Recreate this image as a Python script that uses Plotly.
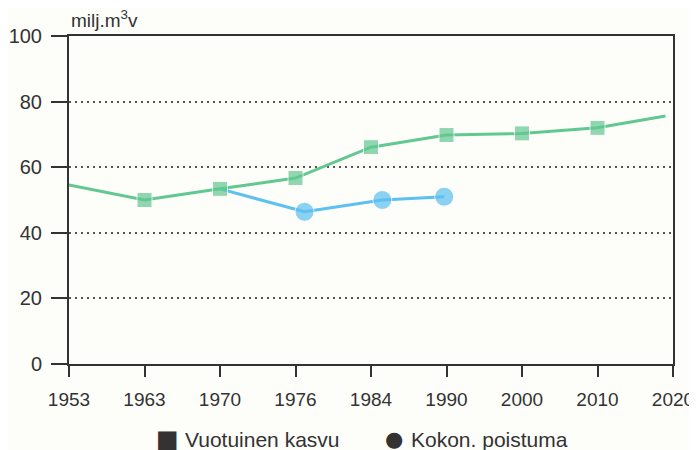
import plotly.graph_objects as go

tick_labels = ["1953", "1963", "1970", "1976", "1984", "1990", "2000", "2010", "2020"]
tick_pos = [0, 1, 2, 3, 4, 5, 6, 7, 8]

kasvu_x = [0, 1, 2, 3, 4, 5, 6, 7, 7.9]
kasvu_y = [54.6, 50.0, 53.4, 56.7, 66.1, 69.8, 70.3, 72.0, 75.6]
kasvu_marker = [0, 15, 15, 15, 15, 15, 15, 15, 0]

poistuma_x = [2, 3.12, 4.15, 4.97]
poistuma_y = [53.4, 46.4, 50.0, 51.0]
poistuma_marker = [0, 19, 19, 19]

GREEN = "#62c892"
BLUE = "#5cc0f0"
DARK = "#333333"
BG = "#fdfdf9"
FONT = "Liberation Sans, Arial, sans-serif"

# plot area is 604 x 328 px; the page adds an 8px body margin
PW, PH = 604, 328


def px(x):
    return (x - 69) / PW


def py(y):
    return (364 - y) / PH


fig = go.Figure()
fig.add_trace(go.Scatter(
    x=poistuma_x, y=poistuma_y, mode="lines+markers",
    line=dict(color=BLUE, width=3),
    marker=dict(color=BLUE, size=poistuma_marker, symbol="circle"),
    showlegend=False, hoverinfo="skip"))
fig.add_trace(go.Scatter(
    x=kasvu_x, y=kasvu_y, mode="lines+markers",
    line=dict(color=GREEN, width=3),
    marker=dict(color=GREEN, size=kasvu_marker, symbol="square"),
    showlegend=False, hoverinfo="skip"))

fig.update_xaxes(
    range=[0, 8], tickvals=tick_pos, ticktext=tick_labels,
    showgrid=False, zeroline=False, automargin=False,
    showline=True, linecolor=DARK, linewidth=2, mirror=True,
    ticks="outside", ticklen=11, tickwidth=2, tickcolor=DARK,
    ticklabelstandoff=6, ticklabeloverflow="allow",
    tickfont=dict(family=FONT, size=19, color=DARK))
fig.update_yaxes(
    range=[0, 100], tickvals=[0, 20, 40, 60, 80, 100],
    showgrid=True, gridcolor="#555555", gridwidth=1.5, griddash="2px,4px",
    zeroline=False, automargin=False,
    showline=True, linecolor=DARK, linewidth=2, mirror=True,
    ticks="outside", ticklen=16, tickwidth=2, tickcolor=DARK,
    ticklabelstandoff=5,
    tickfont=dict(family=FONT, size=20, color=DARK))

fig.add_annotation(text="milj.m<sup>3</sup>v", xref="paper", yref="paper",
                   x=0, y=1, xanchor="left", yanchor="bottom", yshift=3,
                   showarrow=False, font=dict(family=FONT, size=19, color=DARK))

# legend (symbols + labels)
fig.add_annotation(text="■", xref="paper", yref="paper",
                   x=px(167.5), y=py(439), xanchor="center", yanchor="middle",
                   showarrow=False, font=dict(family="DejaVu Sans", size=24, color=DARK))
fig.add_annotation(text="Vuotuinen kasvu", xref="paper", yref="paper",
                   x=px(183), y=py(439), xanchor="left", yanchor="middle",
                   showarrow=False, font=dict(family=FONT, size=21, color=DARK))
fig.add_annotation(text="●", xref="paper", yref="paper",
                   x=px(394), y=py(439), xanchor="center", yanchor="middle",
                   showarrow=False, font=dict(family="DejaVu Sans", size=21, color=DARK))
fig.add_annotation(text="Kokon. poistuma", xref="paper", yref="paper",
                   x=px(409), y=py(439), xanchor="left", yanchor="middle",
                   showarrow=False, font=dict(family=FONT, size=21, color=DARK))

fig.update_layout(
    width=689, height=442,
    margin=dict(l=61, r=24, t=28, b=86),
    paper_bgcolor=BG, plot_bgcolor=BG,
    font=dict(family=FONT, color=DARK))

fig.write_html("out.html")
